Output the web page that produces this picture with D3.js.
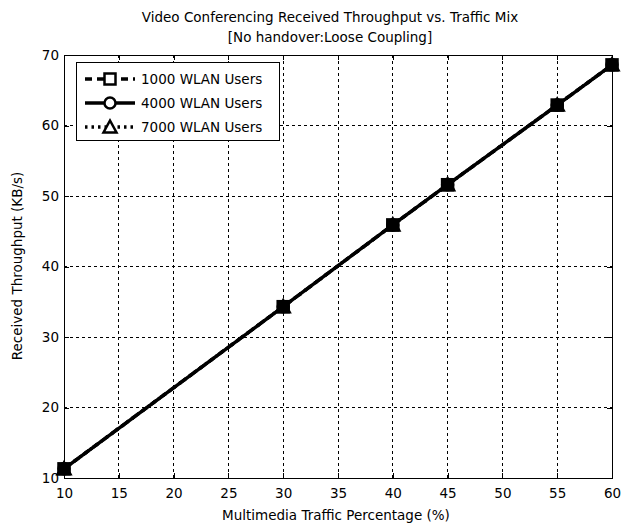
<!DOCTYPE html>
<html>
<head>
<meta charset="utf-8">
<script src="https://cdn.jsdelivr.net/npm/d3@7"></script>
<style>
  html, body { margin: 0; padding: 0; background: #ffffff; }
  svg { display: block; font-family: "DejaVu Sans", Arial, sans-serif; }
</style>
</head>
<body>
<svg id="chart" width="631" height="525"></svg>
<script>
// Traffic mix (x) and received throughput per user population (y)
const trafficPct = [10, 30, 40, 45, 55, 60];
const users1000 = [11.3, 34.3, 45.9, 51.6, 62.9, 68.6];
const users4000 = [11.3, 34.3, 45.9, 51.6, 62.9, 68.6];
const users7000 = [11.3, 34.3, 45.9, 51.6, 62.9, 68.6];
const seriesNames = ["1000 WLAN Users", "4000 WLAN Users", "7000 WLAN Users"];
const xTicks = [10, 15, 20, 25, 30, 35, 40, 45, 50, 55, 60];
const yTicks = [10, 20, 30, 40, 50, 60, 70];

const series = [
  { name: seriesNames[0], values: users1000, dash: "7,5", marker: "square" },
  { name: seriesNames[1], values: users4000, dash: null, marker: "circle" },
  { name: seriesNames[2], values: users7000, dash: "2.5,4", marker: "triangle" }
];

const FONT = "\"DejaVu Sans\", Arial, sans-serif";
const svg = d3.select("#chart");
const m = { left: 64, right: 612, top: 55, bottom: 478 };

const x = d3.scaleLinear().domain([10, 60]).range([m.left, m.right]);
const y = d3.scaleLinear().domain([10, 70]).range([m.bottom, m.top]);

// grid
const grid = svg.append("g").attr("stroke", "#000").attr("stroke-width", 1)
  .attr("stroke-dasharray", "3,3").attr("shape-rendering", "crispEdges");
xTicks.slice(1, -1).forEach(t => {
  grid.append("line").attr("x1", x(t)).attr("x2", x(t)).attr("y1", m.top).attr("y2", m.bottom);
});
yTicks.slice(1, -1).forEach(t => {
  grid.append("line").attr("x1", m.left).attr("x2", m.right).attr("y1", y(t)).attr("y2", y(t));
});

// axes (ticks inside, mirrored on top/right)
const tickLen = 5;
const fmt = d3.format("d");
const xAxis = d3.axisBottom(x).tickValues(xTicks).tickSizeInner(-tickLen).tickSizeOuter(0).tickPadding(10).tickFormat(fmt);
const yAxis = d3.axisLeft(y).tickValues(yTicks).tickSizeInner(-tickLen).tickSizeOuter(0).tickPadding(5).tickFormat(fmt);
const xTop = d3.axisTop(x).tickValues(xTicks).tickSizeInner(-tickLen).tickSizeOuter(0).tickFormat("");
const yRight = d3.axisRight(y).tickValues(yTicks).tickSizeInner(-tickLen).tickSizeOuter(0).tickFormat("");

function styleAxis(g) {
  g.attr("shape-rendering", "crispEdges");
  g.select(".domain").remove();
  g.selectAll(".tick line").attr("stroke", "#000");
  g.selectAll("text").attr("fill", "#000").attr("font-size", 13.5).attr("font-family", FONT);
}
svg.append("g").attr("transform", `translate(0,${m.bottom})`).call(xAxis).call(styleAxis);
svg.append("g").attr("transform", `translate(${m.left},0)`).call(yAxis).call(styleAxis);
svg.append("g").attr("transform", `translate(0,${m.top})`).call(xTop).call(styleAxis);
svg.append("g").attr("transform", `translate(${m.right},0)`).call(yRight).call(styleAxis);

svg.append("rect").attr("x", m.left).attr("y", m.top)
  .attr("width", m.right - m.left).attr("height", m.bottom - m.top)
  .attr("fill", "none").attr("stroke", "#000").attr("stroke-width", 1)
  .attr("shape-rendering", "crispEdges");

// markers
function drawMarker(g, type, cx, cy) {
  const s = 5.5;
  if (type === "square") {
    g.append("rect").attr("x", cx - s).attr("y", cy - s).attr("width", 2 * s).attr("height", 2 * s);
  } else if (type === "circle") {
    g.append("circle").attr("cx", cx).attr("cy", cy).attr("r", s);
  } else {
    g.append("path").attr("d", `M${cx},${cy - s - 1}L${cx + s + 1},${cy + s}L${cx - s - 1},${cy + s}Z`);
  }
}

const line = d3.line().x((d, i) => x(trafficPct[i])).y(d => y(d));
const plot = svg.append("g");
series.forEach(sr => {
  plot.append("path").datum(sr.values).attr("d", line)
    .attr("fill", "none").attr("stroke", "#000").attr("stroke-width", 3.4)
    .attr("stroke-dasharray", sr.dash);
});
series.forEach(sr => {
  const mg = plot.append("g").attr("fill", "#000").attr("stroke", "#000").attr("stroke-width", 2.5);
  sr.values.forEach((v, i) => drawMarker(mg, sr.marker, x(trafficPct[i]), y(v)));
});

// legend
const lg = svg.append("g");
lg.append("rect").attr("x", 76.5).attr("y", 62.5).attr("width", 203).attr("height", 78)
  .attr("fill", "#fff").attr("stroke", "#000").attr("stroke-width", 1);
series.forEach((sr, i) => {
  const ly = 79 + i * 24;
  lg.append("line").attr("x1", 85).attr("x2", 135).attr("y1", ly).attr("y2", ly)
    .attr("stroke", "#000").attr("stroke-width", 3.4).attr("stroke-dasharray", sr.dash);
  const mg = lg.append("g").attr("fill", "#fff").attr("stroke", "#000").attr("stroke-width", 2.5);
  drawMarker(mg, sr.marker, 110, ly);
  lg.append("text").attr("x", 141).attr("y", ly + 5).attr("font-size", 13.5).text(sr.name);
});

// titles
svg.append("text").attr("x", 330).attr("y", 22).attr("text-anchor", "middle").attr("font-size", 13.5)
  .text("Video Conferencing Received Throughput vs. Traffic Mix");
svg.append("text").attr("x", 330).attr("y", 42).attr("text-anchor", "middle").attr("font-size", 13.5)
  .text("[No handover:Loose Coupling]");
svg.append("text").attr("x", 336).attr("y", 520).attr("text-anchor", "middle").attr("font-size", 13.5)
  .text("Multimedia Traffic Percentage (%)");
svg.append("text").attr("transform", "translate(22,266) rotate(-90)").attr("text-anchor", "middle")
  .attr("font-size", 13.5).text("Received Throughput (KB/s)");
</script>
</body>
</html>
